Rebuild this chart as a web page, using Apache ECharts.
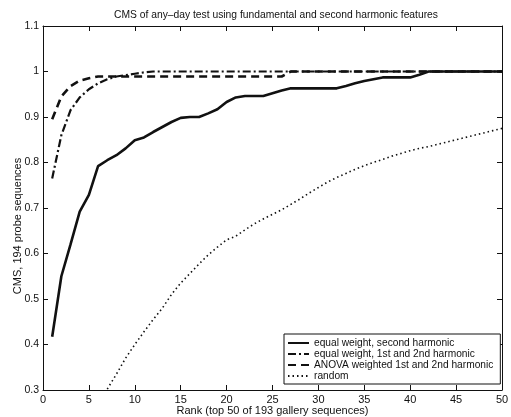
<!DOCTYPE html>
<html>
<head>
<meta charset="utf-8">
<script src="https://cdn.jsdelivr.net/npm/echarts@6/dist/echarts.min.js"></script>
<style>
html,body{margin:0;padding:0;background:#fff;}
#c{width:511px;height:417px;}
</style>
</head>
<body>
<div id="c"></div>
<script>
var ranks = [1,2,3,4,5,6,7,8,9,10,11,12,13,14,15,16,17,18,19,20,21,22,23,24,25,26,27,28,29,30,31,32,33,34,35,36,37,38,39,40,41,42,43,44,45,46,47,48,49,50];

var equalSecond = [0.417,0.55,0.62,0.692,0.729,0.792,0.805,0.816,0.831,0.849,
  0.855,0.867,0.878,0.889,0.898,0.900,0.900,0.908,0.917,0.933,
  0.943,0.946,0.946,0.946,0.952,0.958,0.963,0.963,0.963,0.963,
  0.963,0.963,0.968,0.974,0.979,0.983,0.987,0.987,0.987,0.987,
  0.993,1.0,1.0,1.0,1.0,1.0,1.0,1.0,1.0,1.0];

var equalBoth = [0.765,0.86,0.915,0.943,0.961,0.974,0.983,0.989,0.992,0.995,
  0.998,1.0,1.0,1.0,1.0,1.0,1.0,1.0,1.0,1.0,
  1.0,1.0,1.0,1.0,1.0,1.0,1.0,1.0,1.0,1.0,
  1.0,1.0,1.0,1.0,1.0,1.0,1.0,1.0,1.0,1.0,
  1.0,1.0,1.0,1.0,1.0,1.0,1.0,1.0,1.0,1.0];

var anova = [0.895,0.945,0.968,0.98,0.985,0.989,0.989,0.989,0.989,0.989,
  0.989,0.989,0.989,0.989,0.989,0.989,0.989,0.989,0.989,0.989,
  0.989,0.989,0.989,0.989,0.989,0.989,1.0,1.0,1.0,1.0,
  1.0,1.0,1.0,1.0,1.0,1.0,1.0,1.0,1.0,1.0,
  1.0,1.0,1.0,1.0,1.0,1.0,1.0,1.0,1.0,1.0];

var randomCms = [null,null,null,null,null,null,0.302,0.335,0.37,0.40,
  0.428,0.455,0.48,0.51,0.535,0.556,0.577,0.597,0.614,0.63,
  0.638,0.652,0.665,0.676,0.686,0.696,0.708,0.72,0.733,0.745,
  0.757,0.767,0.776,0.785,0.793,0.80,0.807,0.814,0.82,0.826,
  0.831,0.835,0.84,0.845,0.85,0.855,0.86,0.865,0.87,0.875];

var seriesNames = ['equal weight, second harmonic','equal weight, 1st and 2nd harmonic','ANOVA weighted 1st and 2nd harmonic','random'];
var titleText = 'CMS of any\u2013day test using fundamental and second harmonic features';
var xName = 'Rank (top 50 of 193 gallery sequences)';
var yName = 'CMS, 194 probe sequences';

function pairs(vals){ return ranks.map(function(r,i){ return [r, vals[i]]; }); }

var FONT = 'Liberation Sans';
var INK = '#111';
var chart = echarts.init(document.getElementById('c'), null, {renderer:'canvas'});

function axisCommon(showLabel){
  return {
    axisLine:{show:true, onZero:false, lineStyle:{color:INK, width:1}},
    axisTick:{show:true, inside:true, length:5, lineStyle:{color:INK}},
    axisLabel:{show:showLabel, color:INK, fontFamily:FONT, fontSize:11},
    splitLine:{show:false}
  };
}

var option = {
  animation:false,
  backgroundColor:'#fff',
  color:[INK, INK, INK, INK],
  title:{text:titleText, left:271, top:5, textAlign:'center',
    textStyle:{fontFamily:FONT, fontSize:10.3, fontWeight:'normal', color:INK}},
  grid:{left:43, right:9, top:26, bottom:27, containLabel:false, outerBoundsMode:'none'},
  legend:{
    orient:'vertical', left:284, top:334,
    itemWidth:21, itemHeight:10, itemGap:1,
    padding:[4,7,3,3],
    borderColor:INK, borderWidth:1, backgroundColor:'#fff',
    itemStyle:{opacity:0},
    textStyle:{fontFamily:FONT, fontSize:10.2, color:INK},
    data:seriesNames
  },
  xAxis:[
    Object.assign(axisCommon(true), {type:'value', min:0, max:50, interval:5, position:'bottom',
      name:xName, nameLocation:'middle', nameGap:15, nameMoveOverlap:false,
      nameTextStyle:{fontFamily:FONT, fontSize:11, color:INK},
      axisLabel:{color:INK, fontFamily:FONT, fontSize:11, margin:4}}),
    Object.assign(axisCommon(false), {type:'value', min:0, max:50, interval:5, position:'top'})
  ],
  yAxis:[
    Object.assign(axisCommon(true), {type:'value', min:0.3, max:1.1, interval:0.1, position:'left',
      name:yName, nameLocation:'middle', nameGap:20, nameRotate:90, nameMoveOverlap:false,
      nameTextStyle:{fontFamily:FONT, fontSize:11, color:INK, padding:[0,36,0,0]},
      axisLabel:{color:INK, fontFamily:FONT, fontSize:10.5, margin:4,
        formatter:function(v){ return (Math.round(v*10)/10).toString(); }}}),
    Object.assign(axisCommon(false), {type:'value', min:0.3, max:1.1, interval:0.1, position:'right'})
  ],
  series:[
    {name:seriesNames[0], type:'line', data:pairs(equalSecond), symbol:'none',
      itemStyle:{color:INK}, lineStyle:{color:INK, width:2.6, type:'solid'}, z:4},
    {name:seriesNames[1], type:'line', data:pairs(equalBoth), symbol:'none',
      itemStyle:{color:INK}, lineStyle:{color:INK, width:2.2, type:[8,3,2,3]}, z:3},
    {name:seriesNames[2], type:'line', data:pairs(anova), symbol:'none',
      itemStyle:{color:INK}, lineStyle:{color:INK, width:2.6, type:[8,5]}, z:3},
    {name:seriesNames[3], type:'line', data:pairs(randomCms), symbol:'none', connectNulls:false,
      itemStyle:{color:INK}, lineStyle:{color:INK, width:1.6, type:[1.5,3]}, z:2}
  ]
};
chart.setOption(option);
</script>
</body>
</html>
